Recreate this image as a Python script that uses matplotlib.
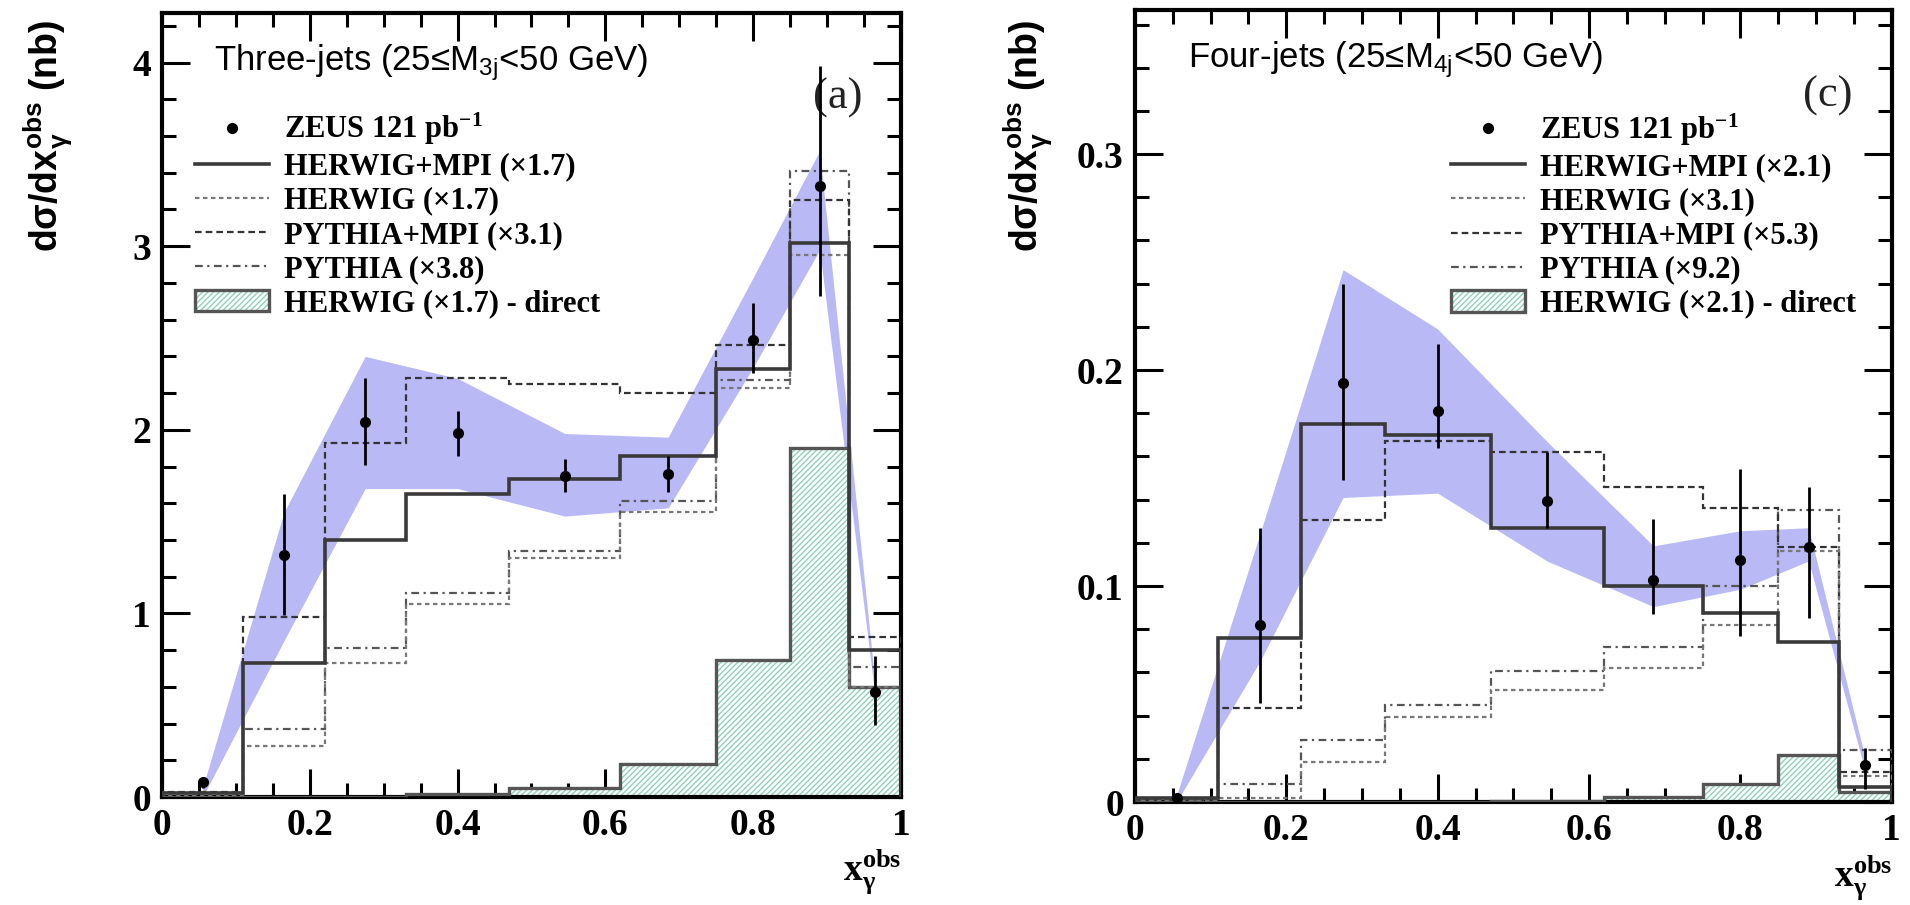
import numpy as np
import matplotlib.pyplot as plt
from matplotlib import font_manager
from matplotlib.patches import Patch
from matplotlib.lines import Line2D
from matplotlib.ticker import MultipleLocator

plt.rcParams['hatch.linewidth'] = 1.0

# bins in x_gamma^obs and data points at bin centres
edges = [0, 0.11, 0.22, 0.33, 0.47, 0.62, 0.75, 0.85, 0.93, 1.0]
xc = [0.055, 0.165, 0.275, 0.40, 0.545, 0.685, 0.80, 0.89, 0.965]

### Three-jets (a)
data3 = [0.08, 1.32, 2.04, 1.98, 1.75, 1.76, 2.49, 3.33, 0.57]
err3_lo = [0.03, 0.33, 0.23, 0.12, 0.09, 0.10, 0.18, 0.60, 0.18]
err3_hi = [0.03, 0.33, 0.24, 0.12, 0.09, 0.10, 0.20, 0.65, 0.20]
band3_lo = [0.0, 0.85, 1.68, 1.68, 1.53, 1.575, 2.34, 2.98, 0.55]
band3_hi = [0.05, 1.55, 2.40, 2.28, 1.98, 1.96, 2.83, 3.52, 0.62]
hw_mpi3 = [0.02, 0.73, 1.40, 1.65, 1.73, 1.86, 2.33, 3.02, 0.80]
hw3 = [0.01, 0.28, 0.73, 1.05, 1.30, 1.55, 2.23, 2.95, 0.60]
py_mpi3 = [0.03, 0.98, 1.93, 2.28, 2.25, 2.20, 2.46, 3.25, 0.87]
py3 = [0.02, 0.37, 0.81, 1.11, 1.34, 1.61, 2.27, 3.41, 0.71]
direct3 = [0.0, 0.0, 0.0, 0.018, 0.05, 0.18, 0.745, 1.90, 0.60]
scales3 = ['1.7', '1.7', '3.1', '3.8', '1.7']

### Four-jets (c)
data4 = [0.002, 0.082, 0.194, 0.181, 0.1395, 0.103, 0.112, 0.118, 0.017]
err4_lo = [0.002, 0.036, 0.045, 0.017, 0.0125, 0.016, 0.035, 0.033, 0.011]
err4_hi = [0.002, 0.045, 0.046, 0.031, 0.0225, 0.028, 0.042, 0.028, 0.008]
band4_lo = [0.0, 0.065, 0.141, 0.143, 0.1115, 0.0905, 0.0985, 0.1116, 0.014]
band4_hi = [0.003, 0.124, 0.2465, 0.219, 0.1667, 0.1186, 0.1256, 0.127, 0.02]
hw_mpi4 = [0.002, 0.076, 0.175, 0.170, 0.127, 0.100, 0.0875, 0.074, 0.007]
hw4 = [0.001, 0.002, 0.0186, 0.0395, 0.052, 0.062, 0.082, 0.116, 0.012]
py_mpi4 = [0.001, 0.0434, 0.1307, 0.167, 0.162, 0.146, 0.136, 0.118, 0.014]
py4 = [0.001, 0.0085, 0.0287, 0.045, 0.0605, 0.072, 0.100, 0.135, 0.024]
direct4 = [0.0, 0.0, 0.0, 0.0, 0.0005, 0.0023, 0.0085, 0.0217, 0.0047]
scales4 = ['2.1', '3.1', '5.3', '9.2', '2.1']

band_col = '#b9b9f6'
hatch_col = '#8fd0bb'
serif = 'Liberation Serif'
sans = 'Liberation Sans'

# narrow sans for the y title if it is there
names = set(f.name for f in font_manager.fontManager.ttflist)
if 'Liberation Sans Narrow' in names:
    ylab_font, ylab_size = ['Liberation Sans Narrow', 'DejaVu Sans'], 32
else:
    ylab_font, ylab_size = [sans, 'DejaVu Sans'], 27

sty_hwmpi = dict(color='#3a3a3a', lw=2.6, ls='-')
sty_hw = dict(color='#777777', lw=1.6, ls=(0, (2.0, 1.6)))
sty_pympi = dict(color='#333333', lw=1.6, ls=(0, (3.0, 1.8)))
sty_py = dict(color='#555555', lw=1.6, ls=(0, (3.5, 2.0, 1.0, 2.0)))


def panel(ax, data, elo, ehi, blo, bhi, hwmpi, hw, pympi, py, direct, scales,
          ymax, ymajor, yminor, yticks, ylabs, title, tag, leg_xy):
    ax.fill_between(xc, blo, bhi, color=band_col, lw=0, zorder=1)
    # direct contribution (hatched)
    ax.stairs(direct, edges, fill=True, facecolor='white', edgecolor=hatch_col,
              hatch='//////', lw=0, zorder=2)
    ax.stairs(direct, edges, color='#555555', lw=2.4, zorder=3)
    ax.stairs(py, edges, zorder=4, **sty_py)
    ax.stairs(pympi, edges, zorder=4, **sty_pympi)
    ax.stairs(hw, edges, zorder=4, **sty_hw)
    ax.stairs(hwmpi, edges, zorder=5, **sty_hwmpi)
    ax.errorbar(xc, data, yerr=[elo, ehi], fmt='o', color='k', ms=7,
                elinewidth=2, capsize=0, zorder=6)

    ax.set_xlim(0, 1)
    ax.set_ylim(0, ymax)
    ax.xaxis.set_major_locator(MultipleLocator(0.2))
    ax.xaxis.set_minor_locator(MultipleLocator(0.05))
    ax.yaxis.set_major_locator(MultipleLocator(ymajor))
    ax.yaxis.set_minor_locator(MultipleLocator(yminor))
    ax.set_xticks([0, 0.2, 0.4, 0.6, 0.8, 1.0])
    ax.set_xticklabels(['0', '0.2', '0.4', '0.6', '0.8', '1'])
    ax.set_yticks(yticks)
    ax.set_yticklabels(ylabs)
    ax.tick_params(which='both', direction='in', top=True, right=True, width=2.2)
    ax.tick_params(which='major', length=20, pad=8)
    ax.tick_params(which='minor', length=10)
    for lab in ax.get_xticklabels() + ax.get_yticklabels():
        lab.set_fontfamily(serif)
        lab.set_fontweight('bold')
        lab.set_fontsize(27)
    for sp in ax.spines.values():
        sp.set_linewidth(3)

    ax.text(0.07, 0.937, title, transform=ax.transAxes, family=sans,
            fontsize=25, ha='left', va='center')
    ax.text(0.915, 0.892, tag, transform=ax.transAxes, family=serif,
            fontsize=32, ha='center', va='center', color='#222222')

    ax.set_ylabel('d\u03c3/dx$\\mathregular{^{obs}_{\\gamma}}$ (nb)', family=ylab_font,
                  fontweight='bold', fontsize=ylab_size)
    ax.text(1.0, -0.095, r'x$\mathregular{^{obs}_{\gamma}}$', transform=ax.transAxes,
            family=serif, fontweight='bold', fontsize=27, ha='right', va='center')

    handles = [
        Line2D([], [], color='k', marker='o', ms=7, ls='none'),
        Line2D([], [], **sty_hwmpi),
        Line2D([], [], **sty_hw),
        Line2D([], [], **sty_pympi),
        Line2D([], [], **sty_py),
        (Patch(facecolor='white', edgecolor=hatch_col, hatch='//////', lw=0),
         Patch(facecolor='none', edgecolor='#555555', lw=2.4)),
    ]
    labels = [
        'ZEUS 121 pb$\\mathregular{^{-1}}$',
        'HERWIG+MPI (\u00d7%s)' % scales[0],
        'HERWIG (\u00d7%s)' % scales[1],
        'PYTHIA+MPI (\u00d7%s)' % scales[2],
        'PYTHIA (\u00d7%s)' % scales[3],
        'HERWIG (\u00d7%s) - direct' % scales[4],
    ]
    ax.legend(handles, labels, loc='upper left', bbox_to_anchor=leg_xy,
              frameon=False, prop={'family': serif, 'weight': 'bold', 'size': 22},
              handlelength=2.4, handletextpad=0.5, labelspacing=0.17,
              borderpad=0, borderaxespad=0)


fig = plt.figure(figsize=(19.1, 9.05), dpi=100)
ax1 = fig.add_axes([0.0848, 0.1193, 0.3869, 0.8663])
ax2 = fig.add_axes([0.5942, 0.1138, 0.3963, 0.8751])

panel(ax1, data3, err3_lo, err3_hi, band3_lo, band3_hi, hw_mpi3, hw3, py_mpi3, py3,
      direct3, scales3, 4.27, 1, 0.2, [0, 1, 2, 3, 4], ['0', '1', '2', '3', '4'],
      'Three-jets (25\u2264M$\\mathregular{_{3j}}$<50 GeV)', '(a)', (0.045, 0.875))
panel(ax2, data4, err4_lo, err4_hi, band4_lo, band4_hi, hw_mpi4, hw4, py_mpi4, py4,
      direct4, scales4, 0.3667, 0.1, 0.02, [0, 0.1, 0.2, 0.3], ['0', '0.1', '0.2', '0.3'],
      'Four-jets (25\u2264M$\\mathregular{_{4j}}$<50 GeV)', '(c)', (0.418, 0.872))

ax1.yaxis.set_label_coords(-0.118, 0.843)
ax2.yaxis.set_label_coords(-0.106, 0.841)

fig.savefig('out.png', dpi=100)
